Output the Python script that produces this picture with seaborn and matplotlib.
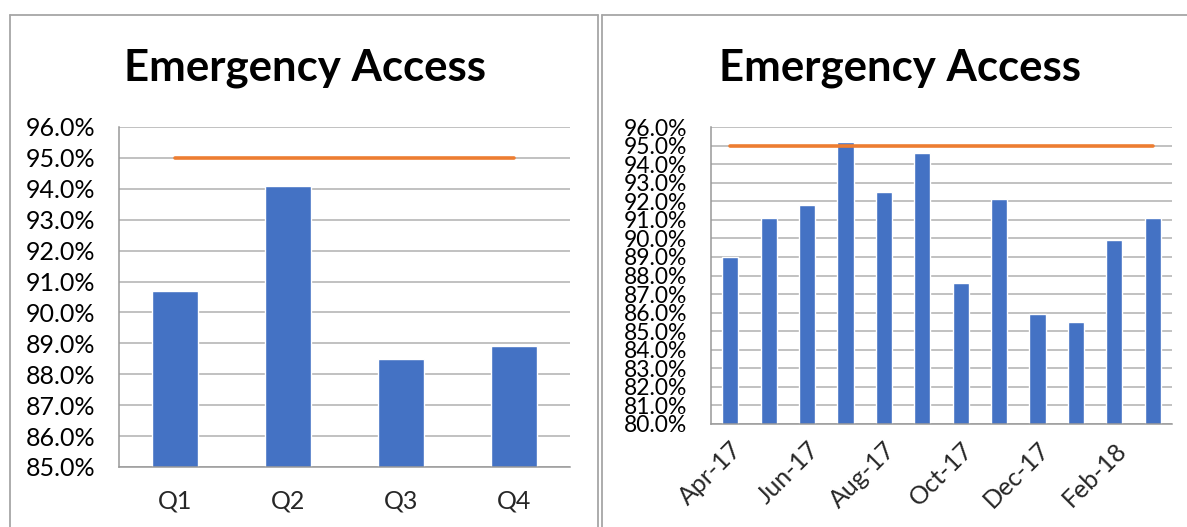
import matplotlib
matplotlib.use("Agg")
import matplotlib.pyplot as plt
import seaborn as sns
import numpy as np
import pandas as pd
from matplotlib.ticker import FuncFormatter, MultipleLocator
from matplotlib.lines import Line2D

# ---- data ----
quarters = ["Q1", "Q2", "Q3", "Q4"]
quarter_values = [90.7, 94.1, 88.5, 88.9]
quarter_target = [95.0, 95.0, 95.0, 95.0]

months = ["Apr-17", "May-17", "Jun-17", "Jul-17", "Aug-17", "Sep-17",
          "Oct-17", "Nov-17", "Dec-17", "Jan-18", "Feb-18", "Mar-18"]
month_values = [89.0, 91.1, 91.8, 95.2, 92.5, 94.6,
                87.6, 92.1, 85.9, 85.5, 89.9, 91.1]
month_target = [95.0] * 12

title_text = "Emergency Access"

BAR = "#4472C4"
TARGET = "#ED7D31"
GRID = "#B0B0B0"
AXIS = "#999999"
FRAME = "#A6A6A6"

sns.set_style("white")
plt.rcParams["font.family"] = ["Lato", "DejaVu Sans"]

W, H = 1187, 527
fig = plt.figure(figsize=(W / 100, H / 100), dpi=100)

def fx(px):
    return px / W

def fy(py):
    return 1 - py / H

# panel frames
fig.add_artist(Line2D([fx(10), fx(10)], [fy(15), 0], color=FRAME, lw=1.3))
fig.add_artist(Line2D([fx(598), fx(598)], [fy(15), 0], color=FRAME, lw=1.3))
fig.add_artist(Line2D([fx(10), fx(598)], [fy(15), fy(15)], color=FRAME, lw=1.3))
fig.add_artist(Line2D([fx(602), fx(602)], [fy(15), 0], color=FRAME, lw=1.3))
fig.add_artist(Line2D([fx(602), 1.0], [fy(15), fy(15)], color=FRAME, lw=1.3))

pct = FuncFormatter(lambda v, p: f"{v:.1f}%")

def style(ax, ymin, ymax, ysize):
    ax.set_ylim(ymin, ymax)
    ax.yaxis.set_major_locator(MultipleLocator(1))
    ax.yaxis.set_major_formatter(pct)
    ax.grid(axis="y", color=GRID, lw=1.1)
    ax.set_axisbelow(True)
    for s in ["top", "right"]:
        ax.spines[s].set_visible(False)
    for s in ["left", "bottom"]:
        ax.spines[s].set_color(AXIS)
        ax.spines[s].set_linewidth(1.1)
    ax.tick_params(axis="y", length=0, pad=17, labelsize=ysize, labelcolor="#000000")
    ax.set_xlabel("")
    ax.set_ylabel("")

# ---- left chart ----
ax1 = fig.add_axes([fx(119), fy(467), fx(570) - fx(119), fy(127) - fy(467)])
df_q = pd.DataFrame({"q": quarters, "v": quarter_values, "t": quarter_target})
sns.barplot(data=df_q, x="q", y="v", color=BAR, saturation=1, width=0.41, ax=ax1)
sns.pointplot(data=df_q, x="q", y="t", color=TARGET, markers="", linestyles="-",
              linewidth=2.6, errorbar=None, ax=ax1)
style(ax1, 85, 96, 18)
ax1.tick_params(axis="x", length=0, pad=16, labelsize=18)
fig.text(fx(305), fy(68), title_text, ha="center", va="center",
         fontsize=31.5, fontweight="bold", color="#000000")

# ---- right chart ----
ax2 = fig.add_axes([fx(711), fy(424), fx(1172) - fx(711), fy(127) - fy(424)])
df_m = pd.DataFrame({"m": months, "v": month_values, "t": month_target})
sns.barplot(data=df_m, x="m", y="v", color=BAR, saturation=1, width=0.42, ax=ax2)
sns.pointplot(data=df_m, x="m", y="t", color=TARGET, markers="", linestyles="-",
              linewidth=2.6, errorbar=None, ax=ax2)
style(ax2, 80, 96, 16.5)
ax2.set_xticks(range(0, len(months), 2))
ax2.set_xticklabels(months[::2], rotation=45, ha="right", rotation_mode="anchor")
ax2.tick_params(axis="x", length=0, pad=10, labelsize=18)
fig.text(fx(900), fy(68), title_text, ha="center", va="center",
         fontsize=31.5, fontweight="bold", color="#000000")

fig.savefig("out.png", dpi=100)
